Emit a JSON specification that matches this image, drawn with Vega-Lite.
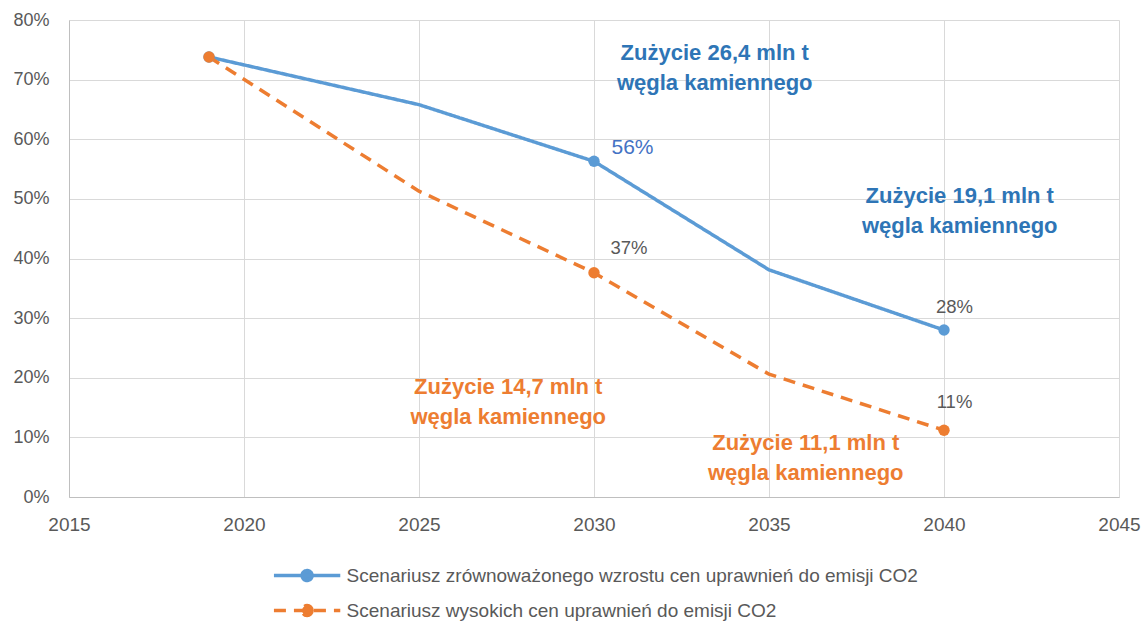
{
  "$schema": "https://vega.github.io/schema/vega-lite/v6.json",
  "width": 1050,
  "height": 477,
  "autosize": {"type": "none"},
  "padding": {"left": 69, "top": 20, "right": 26, "bottom": 129},
  "background": "white",
  "config": {
    "view": {"stroke": null},
    "font": "Liberation Sans",
    "axis": {
      "labelFont": "Liberation Sans",
      "labelFontSize": 18,
      "labelColor": "#595959",
      "gridColor": "#d9d9d9",
      "gridWidth": 1,
      "domainColor": "#bfbfbf",
      "ticks": false,
      "title": null,
      "labelFlush": false,
      "labelOverlap": false
    }
  },
  "datasets": {
    "series": [
      {"year": 2019, "value": 73.8, "series": "Scenariusz zrównoważonego wzrostu cen uprawnień do emisji CO2"},
      {"year": 2025, "value": 65.8, "series": "Scenariusz zrównoważonego wzrostu cen uprawnień do emisji CO2"},
      {"year": 2030, "value": 56.3, "series": "Scenariusz zrównoważonego wzrostu cen uprawnień do emisji CO2"},
      {"year": 2035, "value": 38.1, "series": "Scenariusz zrównoważonego wzrostu cen uprawnień do emisji CO2"},
      {"year": 2040, "value": 28.0, "series": "Scenariusz zrównoważonego wzrostu cen uprawnień do emisji CO2"},
      {"year": 2019, "value": 73.8, "series": "Scenariusz wysokich cen uprawnień do emisji CO2"},
      {"year": 2025, "value": 51.3, "series": "Scenariusz wysokich cen uprawnień do emisji CO2"},
      {"year": 2030, "value": 37.6, "series": "Scenariusz wysokich cen uprawnień do emisji CO2"},
      {"year": 2035, "value": 20.6, "series": "Scenariusz wysokich cen uprawnień do emisji CO2"},
      {"year": 2040, "value": 11.2, "series": "Scenariusz wysokich cen uprawnień do emisji CO2"}
    ],
    "pct": [
      {"year": 2031.1, "value": 58.6, "label": "56%", "group": "blue"},
      {"year": 2031.0, "value": 41.8, "label": "37%", "group": "gray"},
      {"year": 2040.3, "value": 31.9, "label": "28%", "group": "gray"},
      {"year": 2040.3, "value": 15.9, "label": "11%", "group": "gray"}
    ],
    "notes": [
      {"year": 2033.45, "value": 74.5, "label": "Zużycie 26,4 mln t|węgla kamiennego", "group": "blue"},
      {"year": 2040.45, "value": 50.4, "label": "Zużycie 19,1 mln t|węgla kamiennego", "group": "blue"},
      {"year": 2027.55, "value": 18.4, "label": "Zużycie 14,7 mln t|węgla kamiennego", "group": "orange"},
      {"year": 2036.05, "value": 9.1, "label": "Zużycie 11,1 mln t|węgla kamiennego", "group": "orange"}
    ]
  },
  "encoding": {
    "x": {
      "field": "year", "type": "quantitative",
      "scale": {"domain": [2015, 2045], "nice": false, "zero": false},
      "axis": {"values": [2015, 2020, 2025, 2030, 2035, 2040, 2045], "format": "d", "labelPadding": 18, "labelFontSize": 19, "domain": true}
    },
    "y": {
      "field": "value", "type": "quantitative",
      "scale": {"domain": [0, 80], "nice": false},
      "axis": {"values": [0, 10, 20, 30, 40, 50, 60, 70, 80], "labelExpr": "datum.value + '%'", "labelPadding": 20, "domain": true}
    }
  },
  "layer": [
    {
      "data": {"name": "series"},
      "mark": {"type": "line", "strokeWidth": 3.5},
      "encoding": {
        "color": {
          "field": "series", "type": "nominal",
          "scale": {
            "domain": ["Scenariusz zrównoważonego wzrostu cen uprawnień do emisji CO2", "Scenariusz wysokich cen uprawnień do emisji CO2"],
            "range": ["#5b9bd5", "#ed7d31"]
          },
          "legend": {
            "title": null,
            "orient": "none",
            "legendX": 219.6,
            "legendY": 537,
            "direction": "vertical",
            "labelFont": "Liberation Sans",
            "labelFontSize": 19,
            "labelColor": "#595959",
            "labelLimit": 0,
            "symbolType": "M-2,0L2,0M0.3,0A0.3,0.3,0,1,1,-0.3,0A0.3,0.3,0,1,1,0.3,0",
            "symbolSize": 1100,
            "symbolStrokeWidth": 3.5,
            "rowPadding": 4,
            "labelOffset": 21,
            "encode": {"symbols": {"update": {"fill": {"scale": "color", "field": "value"}}}}
          }
        },
        "strokeDash": {
          "field": "series", "type": "nominal",
          "scale": {
            "domain": ["Scenariusz zrównoważonego wzrostu cen uprawnień do emisji CO2", "Scenariusz wysokich cen uprawnień do emisji CO2"],
            "range": [[1, 0], [12, 8]]
          },
          "legend": null
        }
      }
    },
    {
      "data": {"name": "series"},
      "transform": [{"filter": {"field": "year", "oneOf": [2019, 2030, 2040]}}],
      "mark": {"type": "circle", "size": 130, "opacity": 1},
      "encoding": {
        "color": {"field": "series", "type": "nominal", "legend": null}
      }
    },
    {
      "data": {"name": "pct"},
      "transform": [{"filter": "datum.group == 'blue'"}],
      "mark": {"type": "text", "fontSize": 21, "color": "#4472c4", "align": "center", "baseline": "middle"},
      "encoding": {"text": {"field": "label"}}
    },
    {
      "data": {"name": "pct"},
      "transform": [{"filter": "datum.group == 'gray'"}],
      "mark": {"type": "text", "fontSize": 18.5, "color": "#595959", "align": "center", "baseline": "middle"},
      "encoding": {"text": {"field": "label"}}
    },
    {
      "data": {"name": "notes"},
      "transform": [{"filter": "datum.group == 'blue'"}],
      "mark": {"type": "text", "fontSize": 22, "fontWeight": "bold", "color": "#2e75b6", "align": "center", "baseline": "middle", "lineBreak": "|", "lineHeight": 30},
      "encoding": {"text": {"field": "label"}}
    },
    {
      "data": {"name": "notes"},
      "transform": [{"filter": "datum.group == 'orange'"}],
      "mark": {"type": "text", "fontSize": 22, "fontWeight": "bold", "color": "#ed7d31", "align": "center", "baseline": "middle", "lineBreak": "|", "lineHeight": 30},
      "encoding": {"text": {"field": "label"}}
    }
  ]
}
